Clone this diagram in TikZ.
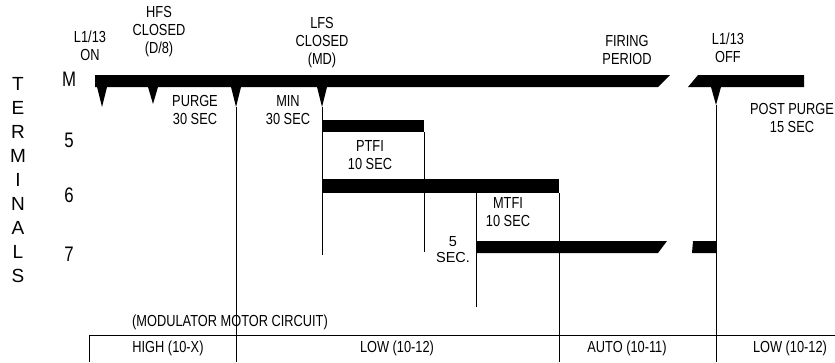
\documentclass[tikz,border=0pt]{standalone}
\usepackage{fontspec}
\setmainfont{Liberation Sans}[FakeStretch=0.8]
\newfontfamily\widesans{Liberation Sans}
\usetikzlibrary{positioning}
\tikzset{
  tim/text/.style={font=\fontsize{16}{18}\selectfont, align=center,
    inner sep=0pt},
  tim/terminal/.style={font=\fontsize{21}{22}\selectfont, inner sep=0pt},
  tim/axis/.style={font=\widesans\fontsize{19}{20}\selectfont, inner sep=0pt},
  tim/note/.style={font=\widesans\fontsize{14.5}{16}\selectfont,
    align=center, inner sep=0pt},
  tim/bar/.style={fill=black, draw=none},
  tim/rule/.style={draw=black, line width=0.8pt},
}

\begin{document}
\begin{tikzpicture}[x=1pt, y=-1pt]
\useasboundingbox (0,0) rectangle (835,362);

% terminal axis
\foreach \ch [count=\i from 0] in {T,E,R,M,I,N,A,L,S}
  \node[tim/axis] (axis\i) at (18,84+24*\i) {\ch};
\node[tim/terminal] (termM) at (69,79) {M};
\node[tim/terminal] (term5) at (69,140) {5};
\node[tim/terminal] (term6) at (69,195) {6};
\node[tim/terminal] (term7) at (69,254) {7};

% event labels
\node[tim/text] (lon) at (90,46) {L1/13\\ON};
\node[tim/text] (hfs) at (159,32) {HFS\\CLOSED\\(D/8)};
\node[tim/text] (lfs) at (322,43) {LFS\\CLOSED\\(MD)};
\node[tim/text] (firing) at (627,50) {FIRING\\PERIOD};
\node[tim/text] (loff) at (728,48) {L1/13\\OFF};

% interval labels
\node[tim/text] (purge) at (195,110) {PURGE\\30 SEC};
\node[tim/text] (min) at (288,110) {MIN\\30 SEC};
\node[tim/text] (ptfi) at (370,155) {PTFI\\10 SEC};
\node[tim/text] (mtfi) at (508,212) {MTFI\\10 SEC};
\node[tim/note] (fivesec) at (453,250) {5\\SEC.};
\node[tim/text] (postpurge) at (792,118) {POST PURGE\\15 SEC};

% terminal bars
\fill[tim/bar] (95,75) -- (670,75) -- (658,87) -- (95,87) -- cycle;
\fill[tim/bar] (698,75) -- (804,75) -- (804,87) -- (688,87) -- cycle;
\fill[tim/bar] (322,120) rectangle (424,132);
\fill[tim/bar] (322,179) rectangle (559,193);
\fill[tim/bar] (476,241) -- (667,241) -- (658,253) -- (476,253) -- cycle;
\fill[tim/bar] (693,241) -- (716,241) -- (716,253) -- (692,253) -- cycle;

% markers under M
\foreach \mx/\tip in {102/107,153/104,236/107,322/107,716/105}
  \fill[tim/bar] (\mx-5,87) -- (\mx+5,87) -- (\mx,\tip) -- cycle;

% timing lines
\coordinate (purgeTop) at (236,107);
\coordinate (purgeBot) at (236,362);
\coordinate (lfsTop) at (322,107);
\coordinate (lfsBot) at (322,255);
\coordinate (ptfiTop) at (424,132);
\coordinate (ptfiBot) at (424,252);
\coordinate (mtfiTop) at (476,193);
\coordinate (mtfiBot) at (476,307);
\coordinate (autoTop) at (559,193);
\coordinate (autoBot) at (559,362);
\coordinate (offTop) at (716,105);
\coordinate (offBot) at (716,362);
\draw[tim/rule] (purgeTop) -- (purgeBot);
\draw[tim/rule] (lfsTop) -- (lfsBot);
\draw[tim/rule] (ptfiTop) -- (ptfiBot);
\draw[tim/rule] (mtfiTop) -- (mtfiBot);
\draw[tim/rule] (autoTop) -- (autoBot);
\draw[tim/rule] (offTop) -- (offBot);

% modulator motor circuit
\node[tim/text] (modulator) at (230,322) {(MODULATOR MOTOR CIRCUIT)};
\coordinate (tableLeft) at (89,335);
\coordinate (tableRight) at (835,335);
\draw[tim/rule] (tableLeft) -- (tableRight);
\draw[tim/rule] (tableLeft) -- (89,362);
\node[tim/text] (high) at (168,348) {HIGH (10-X)};
\node[tim/text] (low) at (397,348) {LOW (10-12)};
\node[tim/text] (auto) at (627,348) {AUTO (10-11)};
\node[tim/text] (lowpost) at (790,348) {LOW (10-12)};
\end{tikzpicture}
\end{document}
